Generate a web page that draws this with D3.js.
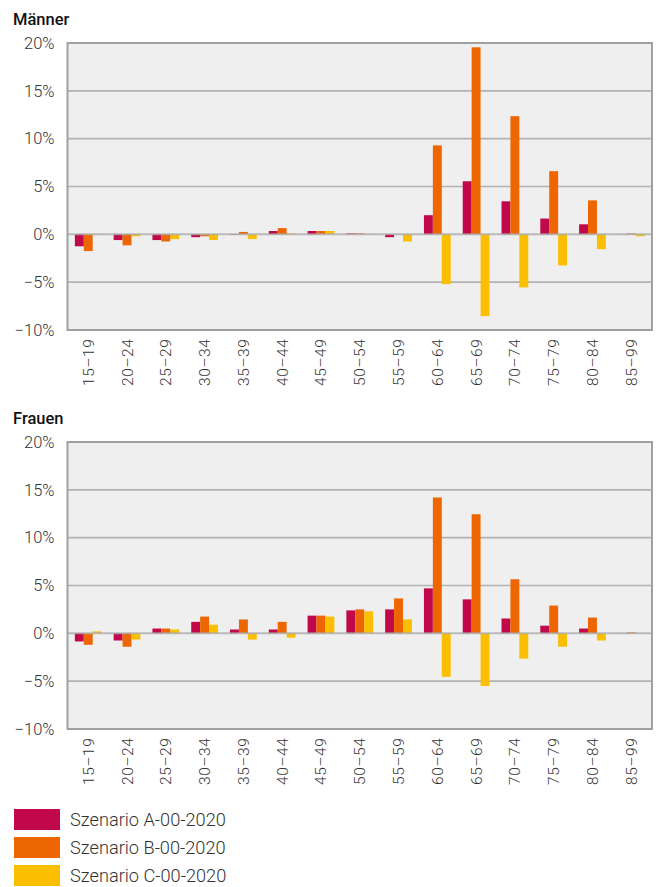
<!DOCTYPE html>
<html><head><meta charset="utf-8">
<script src="https://cdn.jsdelivr.net/npm/d3@7"></script>
<style>
body{margin:0;background:#fff;}
svg{display:block;font-family:Roboto,"Noto Sans",sans-serif;}
</style></head>
<body><svg id="c" width="656" height="887"></svg>
<script>
const categories = ["15–19","20–24","25–29","30–34","35–39","40–44","45–49","50–54","55–59","60–64","65–69","70–74","75–79","80–84","85–99"];
const seriesNames = ["Szenario A-00-2020","Szenario B-00-2020","Szenario C-00-2020"];
const seriesColors = ["#c0084a","#ee6602","#fcbe00"];
const yTicks = [-10,-5,0,5,10,15,20];

const maennerA = [-1.25,-0.6,-0.6,-0.3,-0.05,0.35,0.35,0.1,-0.3,2.0,5.55,3.45,1.65,1.05,-0.02];
const maennerB = [-1.75,-1.15,-0.75,-0.2,0.25,0.65,0.35,0.1,-0.02,9.3,19.55,12.35,6.6,3.55,0.1];
const maennerC = [-0.05,-0.2,-0.5,-0.6,-0.5,0.1,0.35,0.05,-0.75,-5.2,-8.55,-5.55,-3.25,-1.55,-0.2];

const frauenA = [-0.85,-0.75,0.5,1.2,0.4,0.4,1.85,2.4,2.5,4.7,3.55,1.55,0.8,0.5,0.02];
const frauenB = [-1.2,-1.4,0.5,1.75,1.45,1.2,1.85,2.5,3.65,14.2,12.45,5.65,2.9,1.65,0.1];
const frauenC = [0.2,-0.65,0.4,0.9,-0.65,-0.45,1.75,2.3,1.45,-4.55,-5.5,-2.65,-1.4,-0.75,-0.03];

const svg = d3.select("#c");
const L = 67.5, R = 652;
const x = d3.scaleBand().domain(categories).range([L, R]).paddingInner(0.31).paddingOuter(0.19);
const xs = d3.scaleBand().domain([0,1,2]).range([0, x.bandwidth()]);

function panel(title, top, series){
  const bottom = top + 287;
  const y = d3.scaleLinear().domain([-10,20]).range([bottom, top]);
  const g = svg.append("g");
  g.append("text").attr("x",13).attr("y",top-18.5).text(title)
    .attr("font-size",16.5).attr("font-weight",500).attr("fill","#111");
  g.append("rect").attr("x",L).attr("y",top).attr("width",R-L).attr("height",bottom-top).attr("fill","#efefef");
  // grid
  g.append("g").selectAll("line").data(yTicks.filter(t=>t!==0 && t!==20 && t!==-10)).join("line")
    .attr("x1",L).attr("x2",R).attr("y1",d=>y(d)).attr("y2",d=>y(d))
    .attr("stroke","#b2b2b2").attr("stroke-width",1.6);
  // bars
  series.forEach((vals,si)=>{
    g.append("g").selectAll("rect").data(vals).join("rect")
      .attr("x",(d,i)=>x(categories[i])+xs(si))
      .attr("width",xs.bandwidth())
      .attr("y",d=>y(Math.max(0,d)))
      .attr("height",d=>Math.abs(y(d)-y(0)))
      .attr("fill",seriesColors[si]);
  });
  // zero line
  g.append("line").attr("x1",L).attr("x2",R).attr("y1",y(0)).attr("y2",y(0))
    .attr("stroke","#a8a8a8").attr("stroke-width",2).attr("stroke-opacity",0.75);
  // border
  g.append("rect").attr("x",L).attr("y",top).attr("width",R-L).attr("height",bottom-top)
    .attr("fill","none").attr("stroke","#a0a0a0").attr("stroke-width",2);
  // y axis
  const ya = d3.axisLeft(y).tickValues(yTicks).tickSize(0).tickPadding(13)
    .tickFormat(d=>(d<0?"\u2212"+Math.abs(d):d)+"%");
  const yg = g.append("g").attr("transform",`translate(${L},0)`).call(ya);
  yg.select(".domain").remove();
  yg.selectAll("text").attr("font-size",16.5).attr("font-weight",300).attr("fill","#333")
    .attr("font-family","Roboto");
  // x axis labels
  const xa = d3.axisBottom(x).tickSize(0).tickPadding(0);
  const xg = g.append("g").attr("transform",`translate(0,${bottom})`).call(xa);
  xg.select(".domain").remove();
  xg.selectAll("text").attr("font-size",15.5).attr("font-weight",300).attr("fill","#333")
    .attr("font-family","Roboto")
    .attr("text-anchor","end").attr("dy",null).attr("y",0)
    .attr("transform","translate(5.5,8.5) rotate(-90)")
    .attr("letter-spacing",0.6);
}

panel("Männer", 43, [maennerA, maennerB, maennerC]);
panel("Frauen", 442, [frauenA, frauenB, frauenC]);

// legend
const lg = svg.append("g");
seriesNames.forEach((n,i)=>{
  lg.append("rect").attr("x",14).attr("y",809+i*28).attr("width",46).attr("height",21).attr("fill",seriesColors[i]);
  lg.append("text").attr("x",70).attr("y",826+i*28).text(n)
    .attr("font-size",18.2).attr("font-weight",300).attr("fill","#333");
});
</script></body></html>
